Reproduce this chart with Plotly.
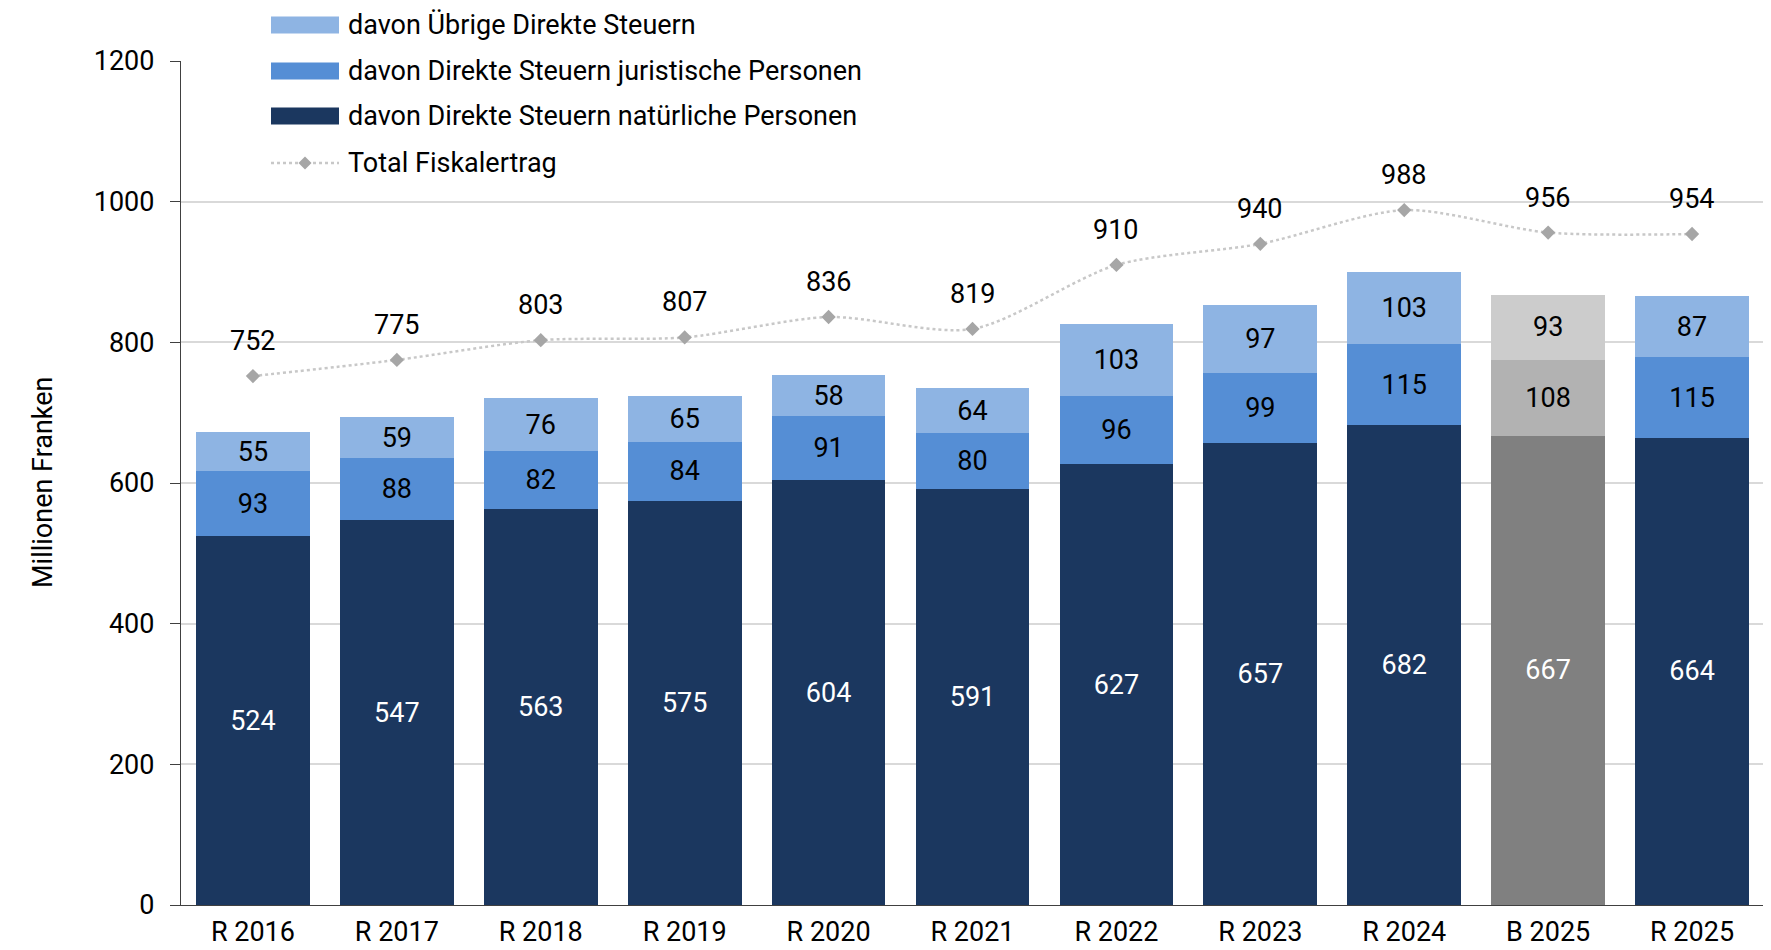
import plotly.graph_objects as go

categories = ["R 2016", "R 2017", "R 2018", "R 2019", "R 2020", "R 2021",
              "R 2022", "R 2023", "R 2024", "B 2025", "R 2025"]
natuerliche = [524, 547, 563, 575, 604, 591, 627, 657, 682, 667, 664]
juristische = [93, 88, 82, 84, 91, 80, 96, 99, 115, 108, 115]
uebrige = [55, 59, 76, 65, 58, 64, 103, 97, 103, 93, 87]
total = [752, 775, 803, 807, 836, 819, 910, 940, 988, 956, 954]

legend_names = ["davon Übrige Direkte Steuern",
                "davon Direkte Steuern juristische Personen",
                "davon Direkte Steuern natürliche Personen",
                "Total Fiskalertrag"]

FONT = "Roboto, Liberation Sans, Arial, sans-serif"
FS = 27
DARK, MID, LIGHT = "#1B375F", "#558ED5", "#8EB4E3"
G_DARK, G_MID, G_LIGHT = "#808080", "#B2B2B2", "#CCCCCC"

def seg_colors(normal, budget):
    return [budget if c.startswith("B") else normal for c in categories]

# page body has an 8px margin: work in window pixels, convert to figure pixels
O = 8
W, H = 1771 - O, 950 - O
L, R, T, B = 181 - O, 1764 - O, 61 - O, 905 - O
PW, PH = R - L, B - T

def xp(px):  # window px -> paper
    return (px - O - L) / PW

def yp(py):
    return (B - (py - O)) / PH

fig = go.Figure()
fig.add_trace(go.Bar(x=categories, y=natuerliche, name=legend_names[2],
                     marker=dict(color=seg_colors(DARK, G_DARK), line=dict(width=0)),
                     text=[str(v) for v in natuerliche], textposition="inside",
                     insidetextanchor="middle", textangle=0,
                     textfont=dict(color="white", size=FS, family=FONT)))
fig.add_trace(go.Bar(x=categories, y=juristische, name=legend_names[1],
                     marker=dict(color=seg_colors(MID, G_MID), line=dict(width=0)),
                     text=[str(v) for v in juristische], textposition="inside",
                     insidetextanchor="middle", textangle=0,
                     textfont=dict(color="black", size=FS, family=FONT)))
fig.add_trace(go.Bar(x=categories, y=uebrige, name=legend_names[0],
                     marker=dict(color=seg_colors(LIGHT, G_LIGHT), line=dict(width=0)),
                     text=[str(v) for v in uebrige], textposition="inside",
                     insidetextanchor="middle", textangle=0,
                     textfont=dict(color="black", size=FS, family=FONT)))
fig.add_trace(go.Scatter(x=categories, y=total, name=legend_names[3], mode="lines+markers",
                         line=dict(color="#C8C8C8", width=2.5, dash="dot", shape="spline", smoothing=0.8),
                         marker=dict(symbol="diamond", size=11, color="#A6A6A6")))

annotations = []
for c, v in zip(categories, total):
    annotations.append(dict(x=c, y=v, xref="x", yref="y", text=str(v), showarrow=False,
                            yshift=35, font=dict(size=FS, family=FONT, color="black")))

annotations.append(dict(x=xp(25), y=yp(482), xref="paper", yref="paper",
                        text="Millionen Franken", textangle=-90, showarrow=False,
                        font=dict(size=FS, family=FONT, color="black")))

shapes = []
shapes.append(dict(type="rect", xref="paper", yref="paper", x0=xp(200), x1=xp(921),
                   y0=yp(185), y1=yp(0), fillcolor="white", line=dict(width=0), layer="above"))
leg_rows = [25, 71, 116, 163]
leg_cols = [LIGHT, MID, DARK]
for i, name in enumerate(legend_names):
    yc = leg_rows[i]
    if i < 3:
        shapes.append(dict(type="rect", xref="paper", yref="paper", x0=xp(271), x1=xp(339),
                           y0=yp(yc + 8.5), y1=yp(yc - 8.5), fillcolor=leg_cols[i],
                           line=dict(width=0), layer="above"))
    else:
        shapes.append(dict(type="line", xref="paper", yref="paper", x0=xp(271), x1=xp(339),
                           y0=yp(yc), y1=yp(yc), line=dict(color="#C8C8C8", width=2.5, dash="dot"),
                           layer="above"))
        cx, cy, d = xp(305), yp(yc), 6.5
        dx, dy = d / PW, d / PH
        path = f"M {cx-dx},{cy} L {cx},{cy+dy} L {cx+dx},{cy} L {cx},{cy-dy} Z"
        shapes.append(dict(type="path", xref="paper", yref="paper", path=path,
                           fillcolor="#A6A6A6", line=dict(width=0), layer="above"))
    annotations.append(dict(x=xp(346), y=yp(yc), xref="paper", yref="paper", text=name,
                            showarrow=False, xanchor="left", yanchor="middle",
                            font=dict(size=FS, family=FONT, color="black")))

fig.update_layout(
    width=W, height=H, barmode="stack", bargap=0.21,
    paper_bgcolor="white", plot_bgcolor="white",
    margin=dict(l=L, r=W - R, t=T, b=H - B, autoexpand=False),
    showlegend=False,
    font=dict(family=FONT, size=FS, color="black"),
    uniformtext=dict(minsize=FS, mode="show"),
    annotations=annotations, shapes=shapes,
    xaxis=dict(range=[-0.5, len(categories) - 0.5], showgrid=False, showline=True,
               linecolor="#404040", linewidth=1.3,
               ticks="", ticklabelstandoff=2,
               tickfont=dict(size=FS, family=FONT, color="black"), automargin=False),
    yaxis=dict(range=[0, 1200], dtick=200, showgrid=True, gridcolor="#D9D9D9", gridwidth=1.5,
               showline=True, linecolor="#404040", linewidth=1.3, ticks="outside", ticklen=10,
               tickcolor="#404040", ticklabelstandoff=10,
               tickfont=dict(size=FS, family=FONT, color="black"),
               zeroline=False, automargin=False),
)

fig.write_html("out.html")
